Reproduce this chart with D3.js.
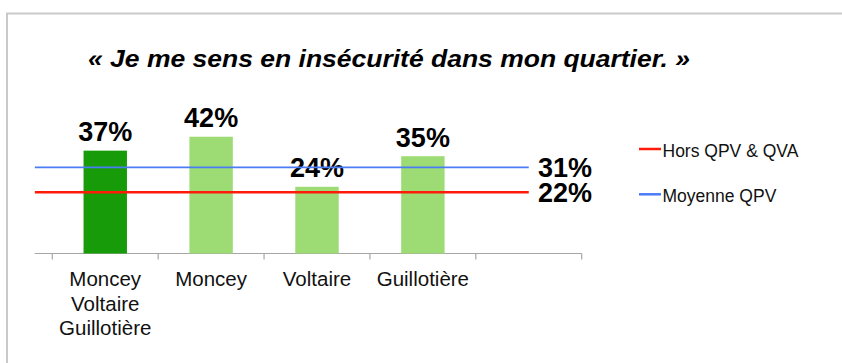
<!DOCTYPE html>
<html>
<head>
<meta charset="utf-8">
<script src="https://cdn.jsdelivr.net/npm/d3@7"></script>
<style>
  html, body { margin: 0; padding: 0; background: #fff; }
  svg { display: block; font-family: "Liberation Sans", Arial, sans-serif; }
</style>
</head>
<body>
<svg id="chart" width="842" height="363"></svg>
<script>
// Share of residents who feel unsafe in their neighbourhood
const title = "« Je me sens en insécurité dans mon quartier. »";
const categories = [["Moncey", "Voltaire", "Guillotière"], ["Moncey"], ["Voltaire"], ["Guillotière"], [""]];
const values = [37, 42, 24, 35];
const barColors = ["#179b09", "#9ddc75", "#9ddc75", "#9ddc75"];

// Reference lines
const refNames = ["Hors QPV & QVA", "Moyenne QPV"];
const refValues = [22, 31];
const refColors = ["#ff1a0a", "#4a7cf6"];
const refWidths = [2.5, 1.8];

const svg = d3.select("#chart");

// Frame
svg.append("path")
  .attr("d", "M7,363V13.5H842")
  .attr("fill", "none")
  .attr("stroke", "#c9c9c9")
  .attr("stroke-width", 2);

// Title
svg.append("text")
  .attr("x", 88).attr("y", 67)
  .attr("font-size", 24)
  .attr("font-weight", "bold")
  .attr("font-style", "italic")
  .attr("textLength", 602)
  .attr("lengthAdjust", "spacingAndGlyphs")
  .attr("fill", "#000")
  .text(title);

const keys = categories.map((c, i) => "c" + i);
const x = d3.scaleBand().domain(keys).range([52.3, 581.7]).padding(0);
const y = d3.scaleLinear().domain([0, 50]).range([253.5, 114.5]);
const bw = x.bandwidth();
const barW = bw * 0.41;

// Category axis
const axisG = svg.append("g").attr("transform", `translate(0,${y(0)})`);
axisG.append("line")
  .attr("x1", x.range()[0] - bw * 0.165).attr("x2", x.range()[1])
  .attr("stroke", "#a6a6a6").attr("stroke-width", 1.2);
const tickPos = keys.map(k => x(k)).concat([x.range()[1]]);
axisG.selectAll("line.tick").data(tickPos).enter().append("line")
  .attr("class", "tick")
  .attr("x1", d => d).attr("x2", d => d)
  .attr("y1", 0).attr("y2", 6)
  .attr("stroke", "#a6a6a6").attr("stroke-width", 1.2);

// Category labels
const labG = svg.append("g");
categories.forEach((lines, i) => {
  const t = labG.append("text")
    .attr("x", x(keys[i]) + bw / 2)
    .attr("y", 286)
    .attr("text-anchor", "middle")
    .attr("font-size", 20.5)
    .attr("fill", "#111");
  lines.forEach((ln, j) => {
    t.append("tspan").attr("x", x(keys[i]) + bw / 2).attr("dy", j === 0 ? 0 : 24.5).text(ln);
  });
});

// Bars
svg.append("g").selectAll("rect").data(values).enter().append("rect")
  .attr("x", (d, i) => x(keys[i]) + (bw - barW) / 2)
  .attr("width", barW)
  .attr("y", d => y(d))
  .attr("height", d => y(0) - y(d))
  .attr("fill", (d, i) => barColors[i]);

// Bar value labels
svg.append("g").selectAll("text").data(values).enter().append("text")
  .attr("x", (d, i) => x(keys[i]) + bw / 2)
  .attr("y", d => y(d) - 9.5)
  .attr("text-anchor", "middle")
  .attr("font-size", 27)
  .attr("font-weight", "bold")
  .attr("fill", "#000")
  .text(d => d + "%");

// Reference lines and their values
const lineX1 = x.range()[0] - bw * 0.165;
const lineX2 = x(keys[4]) + bw / 2;
refValues.forEach((v, i) => {
  svg.append("line")
    .attr("x1", lineX1).attr("x2", lineX2)
    .attr("y1", y(v)).attr("y2", y(v))
    .attr("stroke", refColors[i]).attr("stroke-width", refWidths[i]);
  svg.append("text")
    .attr("x", 592).attr("y", y(v) + 10)
    .attr("text-anchor", "end")
    .attr("font-size", 27)
    .attr("font-weight", "bold")
    .attr("fill", "#000")
    .text(v + "%");
});

// Legend
const legY = [149, 194.3];
refNames.forEach((name, i) => {
  svg.append("line")
    .attr("x1", 639).attr("x2", 661)
    .attr("y1", legY[i]).attr("y2", legY[i])
    .attr("stroke", refColors[i]).attr("stroke-width", 2.5);
  svg.append("text")
    .attr("x", 662.5).attr("y", legY[i] + 7.7)
    .attr("font-size", 17.5)
    .attr("fill", "#111")
    .text(name);
});
</script>
</body>
</html>
